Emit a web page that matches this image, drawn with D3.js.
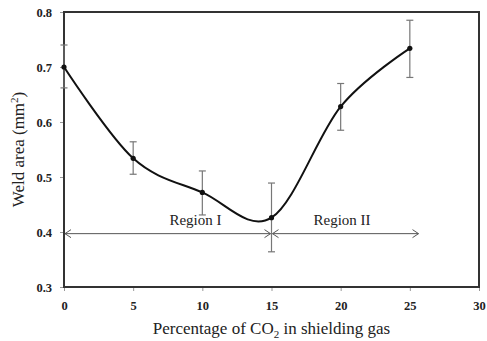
<!DOCTYPE html>
<html>
<head>
<meta charset="utf-8">
<script src="https://cdn.jsdelivr.net/npm/d3@7"></script>
<style>
  body { margin: 0; background: #fff; }
  svg text { font-family: "Liberation Serif", "Times New Roman", serif; }
</style>
</head>
<body>
<div id="chart"></div>
<script>
// CO2 percentage and measured weld area
var co2 = [0, 5, 10, 15, 20, 25];
var weldArea = [0.700, 0.534, 0.472, 0.426, 0.628, 0.734];
var errHigh = [0.740, 0.564, 0.511, 0.489, 0.670, 0.785];
var errLow = [0.662, 0.505, 0.431, 0.364, 0.585, 0.681];
var xTicks = [0, 5, 10, 15, 20, 25, 30];
var yTicks = [0.3, 0.4, 0.5, 0.6, 0.7, 0.8];
var regions = [
  { label: "Region I", from: 0, to: 15, textAt: 9.5 },
  { label: "Region II", from: 15, to: 25.7, textAt: 20.1 }
];
var arrowLevel = 0.397;

var width = 487, height = 341;
var svg = d3.select("#chart").append("svg")
  .attr("width", width)
  .attr("height", height);

var x = d3.scaleLinear().domain([0, 30]).range([64, 479]);
var y = d3.scaleLinear().domain([0.3, 0.8]).range([287, 12]);

// axes
var xAxis = svg.append("g")
  .attr("transform", "translate(0," + y(0.3) + ")")
  .call(d3.axisBottom(x).tickValues(xTicks).tickSize(4).tickPadding(10).tickFormat(d3.format("d")));
var yAxis = svg.append("g")
  .attr("transform", "translate(" + x(0) + ",0)")
  .call(d3.axisLeft(y).tickValues(yTicks).tickSize(4).tickPadding(8).tickFormat(d3.format(".1f")));

[xAxis, yAxis].forEach(function (g) {
  g.select(".domain").remove();
  g.selectAll(".tick line").attr("stroke", "#999");
  g.selectAll(".tick text")
    .attr("fill", "#222")
    .style("font-size", "12.5px")
    .style("font-weight", "bold");
});

// frame
svg.append("rect")
  .attr("x", x(0))
  .attr("y", y(0.8))
  .attr("width", x(30) - x(0))
  .attr("height", y(0.3) - y(0.8))
  .attr("fill", "none")
  .attr("stroke", "#333")
  .attr("stroke-width", 2);

// error bars
var eb = svg.append("g").attr("stroke", "#777").attr("stroke-width", 1.2);
co2.forEach(function (c, i) {
  eb.append("line").attr("x1", x(c)).attr("x2", x(c)).attr("y1", y(errHigh[i])).attr("y2", y(errLow[i]));
  [errHigh[i], errLow[i]].forEach(function (v) {
    eb.append("line").attr("x1", x(c) - 3.5).attr("x2", x(c) + 3.5).attr("y1", y(v)).attr("y2", y(v));
  });
});

// region arrows
var ar = svg.append("g").attr("stroke", "#555").attr("stroke-width", 1).attr("fill", "none");
regions.forEach(function (r) {
  var x1 = x(r.from) + 1, x2 = x(r.to) - 1, yy = y(arrowLevel);
  ar.append("line").attr("x1", x1).attr("x2", x2).attr("y1", yy).attr("y2", yy);
  ar.append("path").attr("d", "M" + (x1 + 6) + "," + (yy - 4) + "L" + x1 + "," + yy + "L" + (x1 + 6) + "," + (yy + 4));
  ar.append("path").attr("d", "M" + (x2 - 6) + "," + (yy - 4) + "L" + x2 + "," + yy + "L" + (x2 - 6) + "," + (yy + 4));
  svg.append("text")
    .attr("x", x(r.textAt))
    .attr("y", y(arrowLevel) - 9)
    .attr("text-anchor", "middle")
    .attr("fill", "#222")
    .style("font-size", "15px")
    .text(r.label);
});

// smoothed line
var pts = co2.map(function (c, i) { return [c, weldArea[i]]; });
var line = d3.line()
  .x(function (d) { return x(d[0]); })
  .y(function (d) { return y(d[1]); })
  .curve(d3.curveCardinal.tension(0));
svg.append("path")
  .datum(pts)
  .attr("d", line)
  .attr("fill", "none")
  .attr("stroke", "#111")
  .attr("stroke-width", 2);

svg.selectAll(".pt")
  .data(pts)
  .enter()
  .append("circle")
  .attr("cx", function (d) { return x(d[0]); })
  .attr("cy", function (d) { return y(d[1]); })
  .attr("r", 2.6)
  .attr("fill", "#111");

// axis titles
var xt = svg.append("text")
  .attr("x", (x(0) + x(30)) / 2)
  .attr("y", 334)
  .attr("text-anchor", "middle")
  .attr("fill", "#222")
  .style("font-size", "17px");
xt.append("tspan").text("Percentage of CO");
xt.append("tspan").attr("dy", 4).style("font-size", "11px").text("2");
xt.append("tspan").attr("dy", -4).text(" in shielding gas");

var yt = svg.append("text")
  .attr("transform", "translate(24," + ((y(0.3) + y(0.8)) / 2) + ") rotate(-90)")
  .attr("text-anchor", "middle")
  .attr("fill", "#222")
  .style("font-size", "17px");
yt.append("tspan").text("Weld area (mm");
yt.append("tspan").attr("dy", -6).style("font-size", "11px").text("2");
yt.append("tspan").attr("dy", 6).text(")");
</script>
</body>
</html>
